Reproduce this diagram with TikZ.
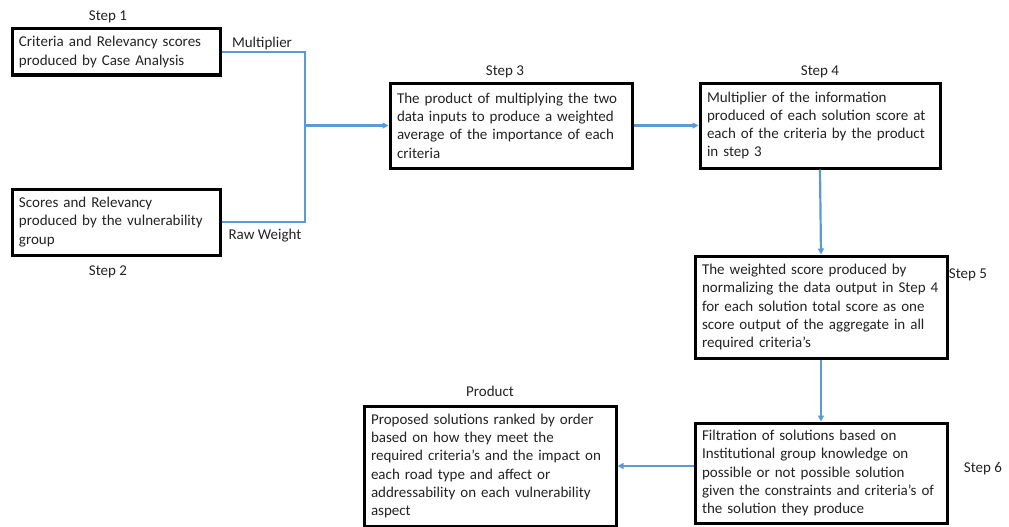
\documentclass[tikz,border=0pt]{standalone}
\usepackage{fontspec}
\setmainfont{Carlito}
\usetikzlibrary{arrows.meta}
\definecolor{conn}{RGB}{91,155,213}
\definecolor{txt}{RGB}{35,35,35}
\begin{document}
\begin{tikzpicture}[x=1pt,y=-1pt,
  box/.style={draw=black, line width=3pt, fill=white, align=left, inner xsep=7pt, inner ysep=2pt,
    font=\fontsize{15}{18.3}\selectfont, text=txt},
  lbl/.style={font=\fontsize{15}{18}\selectfont, text=txt, inner sep=0pt},
  link/.style={draw=conn, line width=2.2pt},
  arr/.style={link, -{Triangle[length=6pt,width=6pt]}}]
\useasboundingbox (0,0) rectangle (1009,527);
\node[box, text width=194pt, minimum height=46pt] (b1) at (116,52) {Criteria and Relevancy scores\\produced by Case Analysis};
\node[box, text width=194pt, minimum height=66pt] (b2) at (116,222) {Scores and Relevancy\\produced by the vulnerability\\group};
\node[box, text width=228pt, minimum height=85pt] (b3) at (511,125.5) {The product of multiplying the two\\data inputs to produce a weighted\\average of the importance of each\\criteria};
\node[box, text width=226pt, minimum height=85pt] (b4) at (820,125.5) {Multiplier of the information\\produced of each solution score at\\each of the criteria by the product\\in step 3};
\node[box, text width=238pt, minimum height=102pt] (b5) at (821,307) {The weighted score produced by\\normalizing the data output in Step 4\\for each solution total score as one\\score output of the aggregate in all\\required criteria's};
\node[box, text width=238pt, minimum height=100pt] (b6) at (821,473) {Filtration of solutions based on\\Institutional group knowledge on\\possible or not possible solution\\given the constraints and criteria's of\\the solution they produce};
\node[box, text width=238pt, minimum height=120pt] (p) at (490,466) {Proposed solutions ranked by order\\based on how they meet the\\required criteria's and the impact on\\each road type and affect or\\addressability on each vulnerability\\aspect};

\node[lbl] (s1) at (108,17) {Step 1};
\node[lbl] (s2) at (108,272) {Step 2};
\node[lbl] (s3) at (505,72) {Step 3};
\node[lbl] (s4) at (820,72) {Step 4};
\node[lbl] (s5) at (968,275) {Step 5};
\node[lbl] (s6) at (983,469) {Step 6};
\node[lbl] (pl) at (490,391) {Product};
\node[lbl] (mul) at (262,44) {Multiplier};
\node[lbl] (rw) at (265,236) {Raw Weight};

\coordinate (j) at (305,125.5);
\draw[link] (b1.east) -| (j);
\draw[link] (b2.east) -| (j);
\draw[arr] (j) -- (b3.west);
\draw[arr] (b3.east) -- (b4.west);
\draw[arr] (b4.south) -- (b5.north);
\draw[arr] (b5.south) -- (b6.north);
\draw[arr] (b6.west |- p.east) -- (p.east);
\end{tikzpicture}
\end{document}
